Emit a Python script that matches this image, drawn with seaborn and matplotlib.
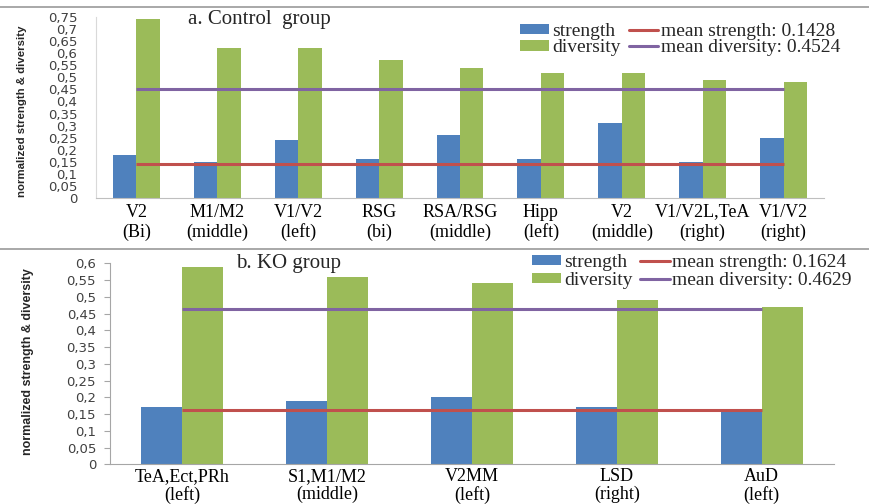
import numpy as np
import pandas as pd
import matplotlib
matplotlib.use("Agg")
import matplotlib.pyplot as plt
import seaborn as sns
from matplotlib.patches import Patch
from matplotlib.lines import Line2D

# ---------------- data ----------------
ctrl_categories = ["V2\n(Bi)", "M1/M2\n(middle)", "V1/V2\n(left)", "RSG\n(bi)",
                   "RSA/RSG\n(middle)", "Hipp\n(left)", "V2\n(middle)",
                   "V1/V2L,TeA\n(right)", "V1/V2\n(right)"]
ctrl_strength = [0.18, 0.15, 0.24, 0.16, 0.26, 0.16, 0.31, 0.15, 0.25]
ctrl_diversity = [0.74, 0.62, 0.62, 0.57, 0.54, 0.52, 0.52, 0.49, 0.48]
ctrl_mean_strength = 0.1428
ctrl_mean_diversity = 0.4524
ctrl_yticks = [0, 0.05, 0.1, 0.15, 0.2, 0.25, 0.3, 0.35, 0.4, 0.45, 0.5,
               0.55, 0.6, 0.65, 0.7, 0.75]
ctrl_ytick_labels = ["0", "0,05", "0,1", "0,15", "0,2", "0,25", "0,3", "0,35",
                     "0,4", "0,45", "0,5", "0,55", "0,6", "0,65", "0,7", "0,75"]

ko_categories = ["TeA,Ect,PRh\n(left)", "S1,M1/M2\n(middle)", "V2MM\n(left)",
                 "LSD\n(right)", "AuD\n(left)"]
ko_strength = [0.17, 0.19, 0.20, 0.17, 0.165]
ko_diversity = [0.59, 0.56, 0.54, 0.49, 0.47]
ko_mean_strength = 0.1624
ko_mean_diversity = 0.4629
ko_yticks = [0, 0.05, 0.1, 0.15, 0.2, 0.25, 0.3, 0.35, 0.4, 0.45, 0.5, 0.55, 0.6]
ko_ytick_labels = ["0", "0,05", "0,1", "0,15", "0,2", "0,25", "0,3", "0,35",
                   "0,4", "0,45", "0,5", "0,55", "0,6"]

BLUE = "#4F81BD"
GREEN = "#9BBB59"
RED = "#C0504D"
PURPLE = "#8064A2"

sns.set_style("white")
plt.rcParams["font.family"] = ["Liberation Serif", "DejaVu Serif"]

W, H = 870, 504
fig = plt.figure(figsize=(W / 100, H / 100), dpi=100)


def fx(px):
    return px / W


def fy(py):
    return 1 - py / H


def panel(ax, cats, strength, diversity, ms, md, width, lsp, pad):
    n = len(cats)
    df = pd.DataFrame({
        "category": list(cats) * 2,
        "value": list(strength) + list(diversity),
        "series": ["strength"] * n + ["diversity"] * n,
    })
    sns.barplot(data=df, x="category", y="value", hue="series",
                hue_order=["strength", "diversity"],
                palette={"strength": BLUE, "diversity": GREEN},
                width=width, gap=0, saturation=1, linewidth=0,
                errorbar=None, legend=False, ax=ax)
    x = np.arange(n)
    ax.plot(x, [ms] * n, color=RED, lw=2.2, solid_capstyle="butt")
    ax.plot(x, [md] * n, color=PURPLE, lw=2.2, solid_capstyle="butt")
    ax.set_xlim(-0.5, n - 0.5)
    ax.set_xlabel("")
    for s in ("top", "right"):
        ax.spines[s].set_visible(False)
    ax.tick_params(axis="x", length=0, pad=pad, labelsize=13, labelcolor="black")
    for lab in ax.get_xticklabels():
        lab.set_linespacing(lsp)


def legend(ms, md, right_px, top_px, spacing):
    handles = [Patch(facecolor=BLUE, edgecolor="none"),
               Patch(facecolor=GREEN, edgecolor="none"),
               Line2D([], [], color=RED, lw=2.2),
               Line2D([], [], color=PURPLE, lw=2.2)]
    labels = ["strength", "diversity",
              f"mean strength: {ms}", f"mean diversity: {md}"]
    fig.legend(handles, labels, ncol=2, loc="upper right",
               bbox_to_anchor=(fx(right_px), fy(top_px)),
               bbox_transform=fig.transFigure,
               frameon=False, borderaxespad=0, borderpad=0,
               fontsize=14, handlelength=1.5, handleheight=0.45,
               handletextpad=0.15, columnspacing=0.4,
               labelspacing=spacing)


# ---------------- top panel ----------------
ax1 = fig.add_axes([fx(96), fy(198), fx(824) - fx(96), fy(17) - fy(198)])
panel(ax1, ctrl_categories, ctrl_strength, ctrl_diversity,
      ctrl_mean_strength, ctrl_mean_diversity, 0.58, 1.2, 4)
ax1.set_ylim(0, 0.75)
ax1.set_yticks(ctrl_yticks)
ax1.set_yticklabels(ctrl_ytick_labels, fontfamily="DejaVu Sans", fontsize=9.5,
                    color="#404040")
ax1.tick_params(axis="y", length=0, pad=13.5)
ax1.spines["left"].set_color("#d9d9d9")
ax1.spines["bottom"].set_color("#bfbfbf")
ax1.text(0.225, 0.985, "a. Control  group", transform=ax1.transAxes,
         ha="center", va="center", fontsize=15)
ax1.set_ylabel("normalized strength & diversity",
               fontfamily="Liberation Sans", fontweight="bold", fontsize=8.2)
ax1.yaxis.set_label_coords(-0.095, 0.48)
legend(ctrl_mean_strength, ctrl_mean_diversity, 840, 23, -0.04)

# ---------------- bottom panel ----------------
ax2 = fig.add_axes([fx(110), fy(464.3), fx(834) - fx(110), fy(263.3) - fy(464.3)])
panel(ax2, ko_categories, ko_strength, ko_diversity,
      ko_mean_strength, ko_mean_diversity, 0.566, 1.05, 3)
ax2.set_ylim(0, 0.6)
ax2.set_yticks(ko_yticks)
ax2.set_yticklabels(ko_ytick_labels, fontfamily="DejaVu Sans", fontsize=9.5,
                    color="#404040")
ax2.tick_params(axis="y", length=4, width=0.8, color="#a6a6a6", pad=6,
                direction="out", left=True)
ax2.spines["left"].set_color("#a6a6a6")
ax2.spines["bottom"].set_color("#a6a6a6")
ax2.text(0.246, 1.0, "b. KO group", transform=ax2.transAxes,
         ha="center", va="center", fontsize=15)
ax2.set_ylabel("normalized strength & diversity",
               fontfamily="Liberation Sans", fontweight="bold", fontsize=9)
ax2.yaxis.set_label_coords(-0.105, 0.51)
legend(ko_mean_strength, ko_mean_diversity, 852, 254, 0.05)

# separator rules
fig.add_artist(Line2D([0, 1], [fy(7), fy(7)], transform=fig.transFigure,
                      color="#9a9a9a", lw=1.2))
fig.add_artist(Line2D([0, 1], [fy(249), fy(249)], transform=fig.transFigure,
                      color="#9a9a9a", lw=1.2))

fig.savefig("out.png", dpi=100)
